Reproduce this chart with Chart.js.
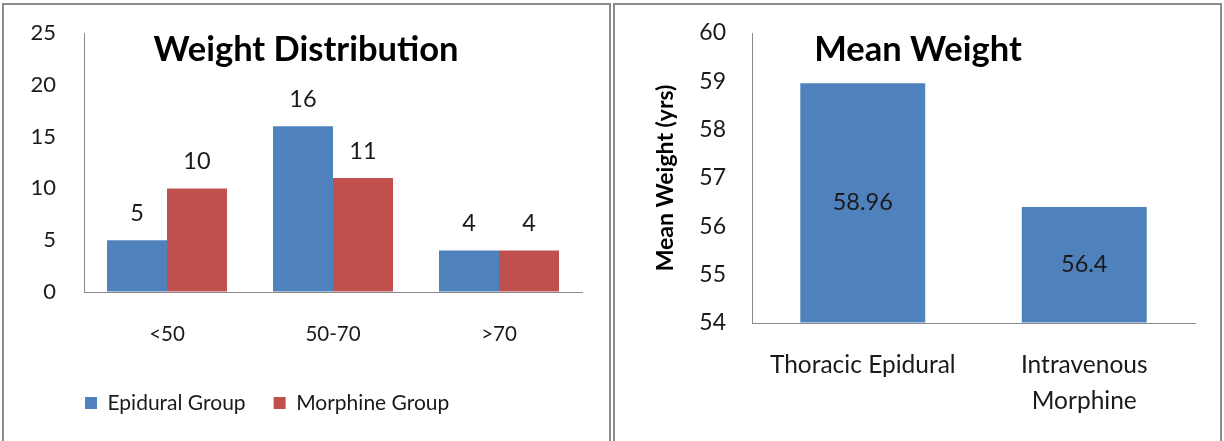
<!DOCTYPE html>
<html lang="en">
<head>
<meta charset="UTF-8">
<title>Weight Distribution / Mean Weight</title>
<script src="https://cdn.jsdelivr.net/npm/chart.js"></script>
<style>
    body {
        margin: 0;
        background: #fff;
        width: 1224px;
        height: 441px;
        overflow: hidden;
        position: relative;
    }
    .panel {
        position: absolute;
        top: 0;
        width: 612px;
        height: 441px;
    }
    #leftPanel { left: 0; }
    #rightPanel { left: 612px; }
    .frame {
        position: absolute;
        top: 3px;
        height: 460px;
        border: 2px solid #8c8c8c;
        pointer-events: none;
    }
</style>
</head>
<body>
    <div class="panel" id="leftPanel"><canvas id="weightChart" width="612" height="441"></canvas></div>
    <div class="panel" id="rightPanel"><canvas id="meanChart" width="612" height="441"></canvas></div>
    <div class="frame" style="left:2px; width:605px;"></div>
    <div class="frame" style="left:613px; width:605px;"></div>

<script>
    // data
    const weightCategories = ['<50', '50-70', '>70'];
    const epiduralCounts = [5, 16, 4];
    const morphineCounts = [10, 11, 4];
    const countTicks = { min: 0, max: 25, step: 5 };

    const meanCategories = ['Thoracic Epidural', ['Intravenous', 'Morphine']];
    const meanWeights = [58.96, 56.4];
    const meanTicks = { min: 54, max: 60, step: 1 };

    const FONT = 'Lato, "Noto Sans", sans-serif';
    const BLUE = '#4f81bd';
    const RED = '#c0504d';
    const AXIS = '#888888';
    const TEXT = '#1a1a1a';

    // value labels over / inside the bars
    const valueLabels = {
        id: 'valueLabels',
        afterDatasetsDraw(chart, args, opts) {
            const ctx = chart.ctx;
            ctx.save();
            ctx.font = opts.font;
            ctx.fillStyle = opts.color;
            ctx.textAlign = 'center';
            ctx.textBaseline = 'middle';
            chart.data.datasets.forEach((ds, i) => {
                chart.getDatasetMeta(i).data.forEach((bar, j) => {
                    const y = opts.inside ? (bar.y + bar.base) / 2 : bar.y - opts.offset;
                    ctx.fillText(String(ds.data[j]), bar.x, y);
                });
            });
            ctx.restore();
        }
    };

    // excel centres the title on the whole panel and puts the legend left of centre
    const excelPlacement = {
        id: 'excelPlacement',
        afterLayout(chart, args, opts) {
            if (chart.titleBlock) {
                chart.titleBlock.left = 0;
                chart.titleBlock.right = chart.width;
            }
            if (chart.legend && opts.legendLeft !== undefined) {
                chart.legend.left = opts.legendLeft;
            }
        }
    };

    const titleOpts = (text) => ({
        display: true,
        text: text,
        color: '#000',
        font: { family: FONT, size: 34.5, weight: 'bold' },
        padding: { top: 29.3, bottom: -37.7 }
    });

    // invisible tick marks keep the labels away from the axis
    // (ticks.padding would also push the plot top down)
    const hiddenTicks = (len) => ({
        display: true, drawOnChartArea: false, drawTicks: true,
        tickLength: len, color: 'rgba(0,0,0,0)'
    });

    new Chart(document.getElementById('weightChart'), {
        type: 'bar',
        data: {
            labels: weightCategories,
            datasets: [
                { label: 'Epidural Group', data: epiduralCounts, backgroundColor: BLUE,
                  barPercentage: 1, categoryPercentage: 0.723 },
                { label: 'Morphine Group', data: morphineCounts, backgroundColor: RED,
                  barPercentage: 1, categoryPercentage: 0.723 }
            ]
        },
        plugins: [valueLabels, excelPlacement],
        options: {
            responsive: false,
            animation: false,
            layout: { padding: { left: 0, right: 30, top: 0, bottom: 17.5 } },
            plugins: {
                title: titleOpts('Weight Distribution'),
                legend: {
                    position: 'bottom',
                    align: 'start',
                    labels: {
                        boxWidth: 12, boxHeight: 12, padding: 28,
                        color: TEXT,
                        font: { family: FONT, size: 21 }
                    }
                },
                tooltip: { enabled: false },
                valueLabels: { font: '23.5px ' + FONT, color: TEXT, offset: 27, inside: false },
                excelPlacement: { legendLeft: 57 }
            },
            scales: {
                x: {
                    grid: { display: false, drawTicks: false },
                    border: { color: AXIS },
                    ticks: { color: TEXT, padding: 30.5, font: { family: FONT, size: 20.5 } },
                    afterFit(s) { s.height = 72.5; }
                },
                y: {
                    min: countTicks.min,
                    max: countTicks.max,
                    grid: hiddenTicks(28),
                    border: { color: AXIS },
                    ticks: { stepSize: countTicks.step, color: TEXT, padding: 0, font: { family: FONT, size: 22 } },
                    afterFit(s) { s.width = 84; }
                }
            }
        }
    });

    new Chart(document.getElementById('meanChart'), {
        type: 'bar',
        data: {
            labels: meanCategories,
            datasets: [
                { label: 'Mean Weight', data: meanWeights, backgroundColor: BLUE,
                  base: meanTicks.min, barPercentage: 1, categoryPercentage: 0.564 }
            ]
        },
        plugins: [valueLabels, excelPlacement],
        options: {
            responsive: false,
            animation: false,
            layout: { padding: { left: 0, right: 29, top: 0, bottom: 0 } },
            plugins: {
                title: titleOpts('Mean Weight'),
                legend: { display: false },
                tooltip: { enabled: false },
                valueLabels: { font: '23.5px ' + FONT, color: TEXT, inside: true }
            },
            scales: {
                x: {
                    grid: { display: false, drawTicks: false },
                    border: { color: AXIS },
                    ticks: { color: TEXT, padding: 24, font: { family: FONT, size: 24.5, lineHeight: 1.47 } },
                    afterFit(s) { s.height = 118; }
                },
                y: {
                    min: meanTicks.min,
                    max: meanTicks.max,
                    grid: hiddenTicks(26),
                    border: { color: AXIS },
                    title: {
                        display: true,
                        text: 'Mean Weight (yrs)',
                        color: '#000',
                        font: { family: FONT, size: 23, weight: 'bold' },
                        padding: { top: 40, bottom: 0 }
                    },
                    ticks: { stepSize: meanTicks.step, color: TEXT, padding: 0, font: { family: FONT, size: 23 } },
                    afterFit(s) { s.width = 140; }
                }
            }
        }
    });
</script>
</body>
</html>
